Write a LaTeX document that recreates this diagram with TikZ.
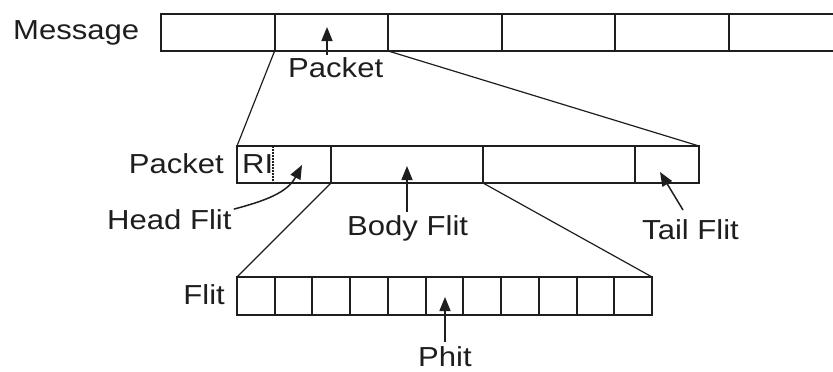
\documentclass[tikz,border=0pt]{standalone}
\usepackage{fontspec}
\setmainfont{Liberation Sans}[FakeStretch=1.13]
\usetikzlibrary{arrows.meta}
\definecolor{ink}{RGB}{30,30,30}
\begin{document}
\begin{tikzpicture}[x=1pt,y=-1pt,
  font=\fontsize{27.5}{33}\selectfont,
  cell/.style={draw=ink,line width=2pt,rectangle,inner sep=0pt,outer sep=0pt,
    anchor=north west,minimum height=37pt},
  lbl/.style={inner sep=0pt,text=ink},
  link/.style={draw=ink,line width=1.2pt},
  pointer/.style={draw=ink,line width=1.5pt,-{Triangle[length=14pt,width=11pt]}}]
\useasboundingbox (0,0) rectangle (833,372);
\clip (0,0) rectangle (833,372);

% --- message: a row of packets, running off the right edge
\foreach \i in {1,...,6}
  \node[cell,minimum width=113.6pt] (m\i) at ({161+(\i-1)*113.6},14) {};
\node[lbl,anchor=base west] (msg) at (13,39) {Message};
\node[lbl,anchor=base west] (mpk) at (288,77) {Packet};
\coordinate (mtip) at (327,27);
\draw[pointer] (327,55) coordinate (mtail) -- (mtip);

% --- packet: head, two body flits, tail
\node[cell,minimum width=94pt]  (head)  at (237,146) {};
\node[cell,minimum width=152pt] (body1) at (331,146) {};
\node[cell,minimum width=152pt] (body2) at (483,146) {};
\node[cell,minimum width=64pt]  (tail)  at (635,146) {};
\draw[ink,line width=1.3pt,dash pattern=on 1.5pt off 1.5pt] (273,146) coordinate (rt) -- (273,183) coordinate (rb);
\node[lbl,anchor=base west] (ri) at (242,173) {RI};
\node[lbl,anchor=base east] (pk) at (224,173) {Packet};

\draw[link] (m1.south east) -- (head.north west);
\draw[link] (m2.south east) -- (tail.north east);

\node[lbl,anchor=base west] (hf) at (107,229) {Head Flit};
\node[lbl,anchor=base west] (bf) at (347,235) {Body Flit};
\node[lbl,anchor=base west] (tf) at (642,239) {Tail Flit};
\coordinate (hftip) at (302,165);
\coordinate (bftip) at (407,166);
\coordinate (tftip) at (660,172);
\draw[pointer] ([shift={(2,-10)}]hf.east) to[out=15,in=-118] (hftip);
\draw[pointer] (407,212) coordinate (bftail) -- (bftip);
\draw[pointer] (683,210) coordinate (tftail) -- (tftip);

% --- flit: a row of phits
\foreach \i in {1,...,11}
  \node[cell,minimum width=37.73pt,minimum height=38pt] (f\i) at ({237+(\i-1)*37.73},277) {};
\node[lbl,anchor=base east] (fl) at (225,304) {Flit};
\draw[link] (head.south east) -- (f1.north west);
\draw[link] (body1.south east) -- (f11.north east);

\node[lbl,anchor=base west] (ph) at (418,366) {Phit};
\coordinate (phtip) at (445,297);
\draw[pointer] (445,342) coordinate (phtail) -- (phtip);
\end{tikzpicture}
\end{document}
